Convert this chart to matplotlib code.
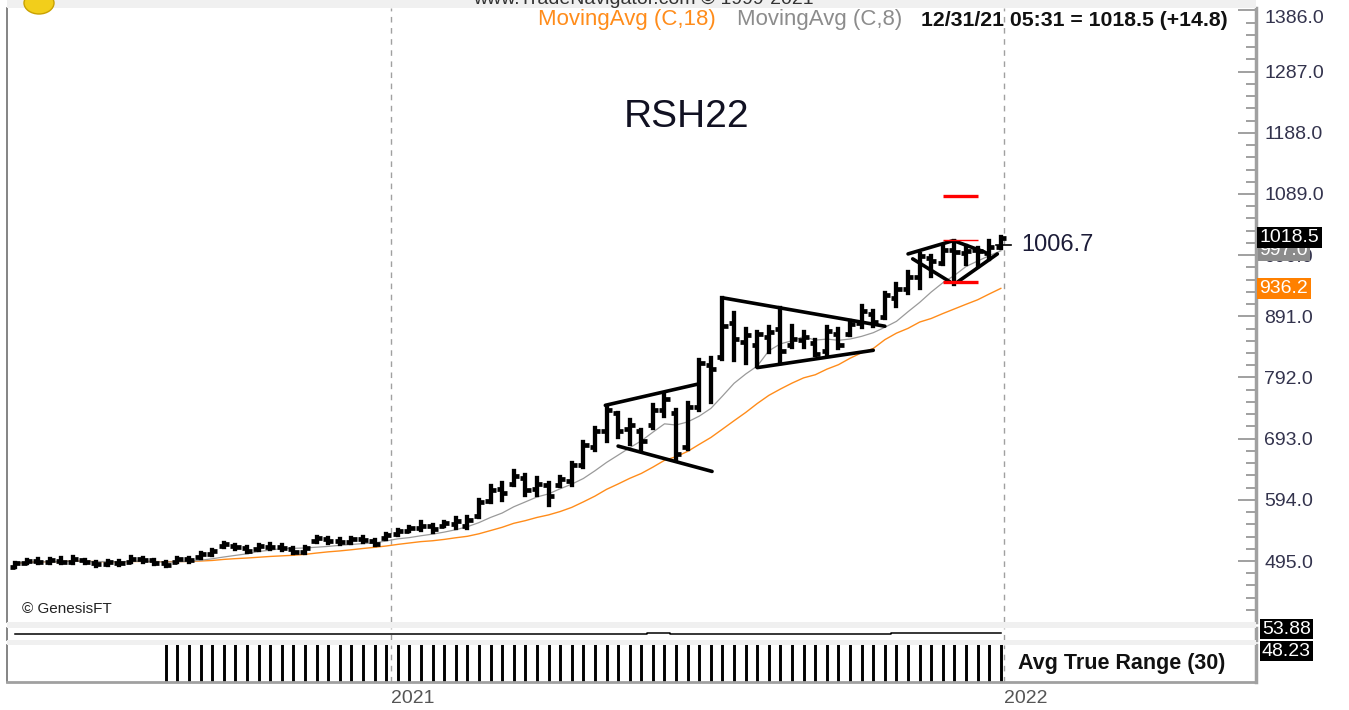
import matplotlib
matplotlib.use('Agg')
import matplotlib.pyplot as plt
import numpy as np
import pandas as pd
from matplotlib.collections import LineCollection
from matplotlib.patches import Rectangle, Ellipse
from matplotlib.ticker import FixedLocator, MultipleLocator, FormatStrFormatter

# ---------------- data ----------------
symbol = "RSH22"
highs = [492, 497, 498, 498, 500, 502, 497, 493, 495, 495,
         501, 500, 497, 493, 500, 500, 508, 513, 524, 521,
         518, 521, 522, 521, 516, 518, 534, 532, 530, 532,
         534, 529, 539, 545, 550, 558, 553, 558, 564, 566,
         594, 616, 621, 640, 634, 629, 622, 631, 653, 687,
         711, 745, 734, 723, 707, 747, 766, 739, 750, 820,
         823, 921, 896, 871, 865, 873, 904, 876, 865, 852,
         873, 871, 884, 908, 900, 929, 944, 962, 992, 989,
         1005, 1013, 1005, 1002, 1013, 1019]
lows = [485, 492, 492, 492, 492, 492, 492, 487, 489, 489,
        493, 493, 490, 487, 493, 493, 500, 505, 518, 514,
        510, 513, 514, 513, 508, 508, 526, 524, 522, 524,
        526, 521, 531, 537, 543, 545, 542, 551, 548, 548,
        566, 590, 594, 618, 602, 602, 585, 616, 618, 647,
        674, 690, 695, 685, 674, 711, 730, 658, 677, 739,
        752, 822, 820, 816, 811, 833, 816, 841, 841, 828,
        828, 839, 860, 873, 876, 889, 908, 928, 937, 957,
        976, 944, 976, 973, 984, 1002]
opens = [486, 492, 495, 494, 495, 494, 497, 492, 490, 492,
         494, 499, 496, 492, 494, 498, 502, 507, 519, 520,
         516, 514, 518, 518, 514, 510, 528, 531, 527, 526,
         530, 528, 532, 538, 544, 548, 551, 552, 555, 552,
         568, 592, 612, 620, 630, 612, 618, 618, 625, 650,
         680, 705, 735, 708, 705, 715, 740, 735, 680, 745,
         812, 825, 880, 850, 845, 858, 870, 845, 852, 848,
         835, 862, 862, 880, 895, 890, 920, 935, 955, 986,
         978, 998, 993, 998, 994, 1004]
closes = [491, 495, 494, 496, 494, 499, 493, 490, 493, 492,
          499, 496, 492, 489, 499, 496, 507, 511, 522, 517,
          512, 519, 517, 516, 510, 516, 532, 527, 526, 530,
          529, 523, 537, 543, 548, 551, 547, 556, 560, 562,
          590, 610, 605, 632, 610, 620, 600, 628, 650, 683,
          705, 740, 705, 715, 690, 740, 758, 668, 745, 815,
          805, 875, 855, 860, 862, 865, 835, 855, 858, 830,
          868, 845, 878, 900, 882, 925, 935, 955, 988, 980,
          998, 995, 997, 996, 1003.7, 1018.5]
osc_vals = [0] * 55 + [1, 1] + [0] * 19 + [1] * 10
price_ticks = [495.0, 594.0, 693.0, 792.0, 891.0, 990.0, 1089.0, 1188.0, 1287.0, 1386.0]
year_labels = ["2021", "2022"]
year_pos = [32.4, 85.3]
# drawn pattern lines: ((bar, price), (bar, price))
pattern_lines = [((50.9, 747), (58.8, 781)), ((52.0, 681), (60.1, 640)),
                 ((61.0, 921), (75.0, 875)), ((64.0, 808), (74.0, 836)),
                 ((77.0, 992), (80.8, 1013)), ((81.0, 1013), (83.6, 995)),
                 ((77.4, 984), (80.6, 947)), ((81.3, 947), (84.7, 992))]
target_levels = [1086, 1015, 947]
target_widths = [2.4, 1.0, 2.4]
target_span = (80.0, 83.0)
marker_value = 1006.7
atr_start = 13

idx = np.arange(len(closes))
cs = pd.Series(closes, dtype=float)
ma18 = cs.rolling(18, min_periods=1).mean()
ma8 = cs.rolling(8, min_periods=1).mean()
prev_c = cs.shift(1).fillna(cs.iloc[0])
tr = np.maximum(np.array(highs) - np.array(lows),
                np.maximum(abs(np.array(highs) - prev_c), abs(np.array(lows) - prev_c)))
atr = pd.Series(tr).rolling(30, min_periods=1).mean()

# ---------------- layout ----------------
W, H = 1349, 710
plt.rcParams['font.family'] = ['Liberation Sans', 'DejaVu Sans']
NARROW = ['Liberation Sans Narrow', 'Liberation Sans', 'DejaVu Sans']
fig = plt.figure(figsize=(W / 100, H / 100), dpi=100)
fig.patch.set_facecolor('white')

def fx(x):
    return x / W

def fy(y):
    return 1 - y / H

L, R = 7, 1256
ax = fig.add_axes([fx(L), fy(622), fx(R) - fx(L), fy(8) - fy(622)])
ax2 = fig.add_axes([fx(L), fy(640), fx(R) - fx(L), fy(628) - fy(640)], sharex=ax)
ax3 = fig.add_axes([fx(L), fy(682), fx(R) - fx(L), fy(645) - fy(682)], sharex=ax)

# gray bands
for (y0, y1) in [(0, 8), (622, 628), (640, 645)]:
    fig.patches.append(Rectangle((fx(L), fy(y1)), fx(R) - fx(L), fy(y0) - fy(y1),
                                 transform=fig.transFigure, fc='#f0f0f0', ec='none', zorder=0))

ax.set_xlim(-0.69, 107.0)
ax.set_ylim(396.3, 1390.0)

# moving averages
ax.plot(idx, ma18, color='#FF8C1A', lw=1.0, zorder=2)
ax.plot(idx, ma8, color='#9a9a9a', lw=0.9, zorder=2)

# OHLC bars
tk = 0.45
segs_v = [[(i, l), (i, h)] for i, (h, l) in enumerate(zip(highs, lows))]
segs_t = []
for i, (o, c) in enumerate(zip(opens, closes)):
    segs_t.append([(i - tk, o), (i, o)])
    segs_t.append([(i, c), (i + tk, c)])
ax.add_collection(LineCollection(segs_v, colors='black', linewidths=3.1,
                                 capstyle='projecting', zorder=3))
ax.add_collection(LineCollection(segs_t, colors='black', linewidths=3.4,
                                 capstyle='butt', zorder=3))

# pattern lines
ax.add_collection(LineCollection(pattern_lines, colors='black', linewidths=2.6,
                                 capstyle='round', zorder=4))
for lev, lw in zip(target_levels, target_widths):
    ax.plot(target_span, [lev, lev], color='#FF0000', lw=lw, solid_capstyle='butt', zorder=5)
ax.plot([84.6, 85.9], [marker_value, marker_value], color='black', lw=1.2, zorder=5)
ax.text(86.8, marker_value, f"{marker_value:.1f}", fontsize=17, color='#1c1c38',
        va='center', ha='left', zorder=6)

ax.text(57.9, 1213, symbol, fontsize=28, color='#111122', ha='center', va='center')
ax.text(0.6, 417, "© GenesisFT", fontsize=11, color='#222222', ha='left', va='center')

# year lines
for a in (ax, ax2, ax3):
    for p in year_pos:
        a.axvline(p, color='#a0a0a0', lw=1.0, ls=(0, (4, 4)), zorder=1)

# axes styling
for a in (ax, ax2, ax3):
    a.spines['top'].set_visible(False)
    a.spines['bottom'].set_visible(False)
    a.spines['left'].set_color('#707070')
    a.spines['left'].set_linewidth(1.2)
    a.spines['right'].set_color('#a0a0a0')
    a.spines['right'].set_linewidth(2.5)
    a.set_facecolor('white')

ax.yaxis.tick_right()
ax.yaxis.set_major_locator(FixedLocator(price_ticks))
ax.yaxis.set_minor_locator(MultipleLocator(19.8))
ax.yaxis.set_major_formatter(FormatStrFormatter('%.1f'))
ax.tick_params(axis='y', which='major', direction='in', length=13, width=1.2,
               color='#909090', labelsize=14, labelcolor='#33334d', pad=6)
ax.tick_params(axis='y', which='minor', direction='in', length=7, width=1.2, color='#909090')
ax.tick_params(axis='x', which='both', bottom=False, labelbottom=False)
top_tick = ax.yaxis.get_major_ticks()[-1]
top_tick.label2.set_va('top')

# price boxes
ax.text(107.3, 997.0, "997.0", fontsize=14, color='white', ha='left', va='center',
        clip_on=False, zorder=7, bbox=dict(boxstyle='square,pad=0.08', fc='#8c8c8c', ec='none'))
ax.text(107.3, 1018.5, "1018.5", fontsize=14, color='white', ha='left', va='center',
        clip_on=False, zorder=8, bbox=dict(boxstyle='square,pad=0.12', fc='black', ec='none'))
ax.text(107.3, ma18.iloc[-1], f"{ma18.iloc[-1]:.1f}", fontsize=14, color='white', ha='left',
        va='center', clip_on=False, zorder=7,
        bbox=dict(boxstyle='square,pad=0.12', fc='#FF8000', ec='none'))

# oscillator panel
ax2.plot(idx, osc_vals, color='black', lw=1.1, drawstyle='steps-mid')
ax2.set_ylim(-4, 4)
ax2.set_yticks([])
ax2.tick_params(axis='x', which='both', bottom=False, labelbottom=False)

# ATR panel
ax3.vlines(idx[atr_start:], 0, atr[atr_start:], colors='black', lw=2.1)
ax3.set_ylim(0, 4)
ax3.set_yticks([])
ax3.spines['bottom'].set_visible(True)
ax3.spines['bottom'].set_color('#a0a0a0')
ax3.spines['bottom'].set_linewidth(2)
ax3.set_xticks(year_pos)
ax3.set_xticklabels(year_labels)
for lab in ax3.get_xticklabels():
    lab.set_ha('left')
ax3.tick_params(axis='x', length=0, pad=6, labelsize=14, labelcolor='#555555')
ax3.text(86.5, 2.0, "Avg True Range (30)", fontsize=15.5, fontweight='bold', family=NARROW,
         color='#111111', ha='left', va='center')

fig.text(fx(1262), fy(629), "53.88", fontsize=14, family=NARROW, color='white', ha='left',
         va='center', bbox=dict(boxstyle='square,pad=0.1', fc='black', ec='none'))
fig.text(fx(1262), fy(651), "48.23", fontsize=14, family=NARROW, color='white', ha='left',
         va='center', bbox=dict(boxstyle='square,pad=0.1', fc='black', ec='none'))

# header
fig.text(fx(643), fy(4), "www.TradeNavigator.com © 1999-2021", fontsize=14, family=NARROW,
         color='#333333', ha='center', va='baseline')
fig.text(fx(538), fy(20), "MovingAvg (C,18)", fontsize=16, family=NARROW, color='#FF8C1A',
         ha='left', va='center')
fig.text(fx(737), fy(20), "MovingAvg (C,8)", fontsize=16, family=NARROW, color='#8c8c8c',
         ha='left', va='center')
fig.text(fx(921), fy(20), "12/31/21 05:31 = 1018.5 (+14.8)", fontsize=15.3, family=NARROW,
         fontweight='bold', color='#111111', ha='left', va='center')

# logo
fig.patches.append(Ellipse((fx(39), fy(3)), fx(30), 22 / H, transform=fig.transFigure,
                           fc='#F2CE1B', ec='#C9A100', lw=1, zorder=5))

fig.savefig('out.png', dpi=100, facecolor='white')
